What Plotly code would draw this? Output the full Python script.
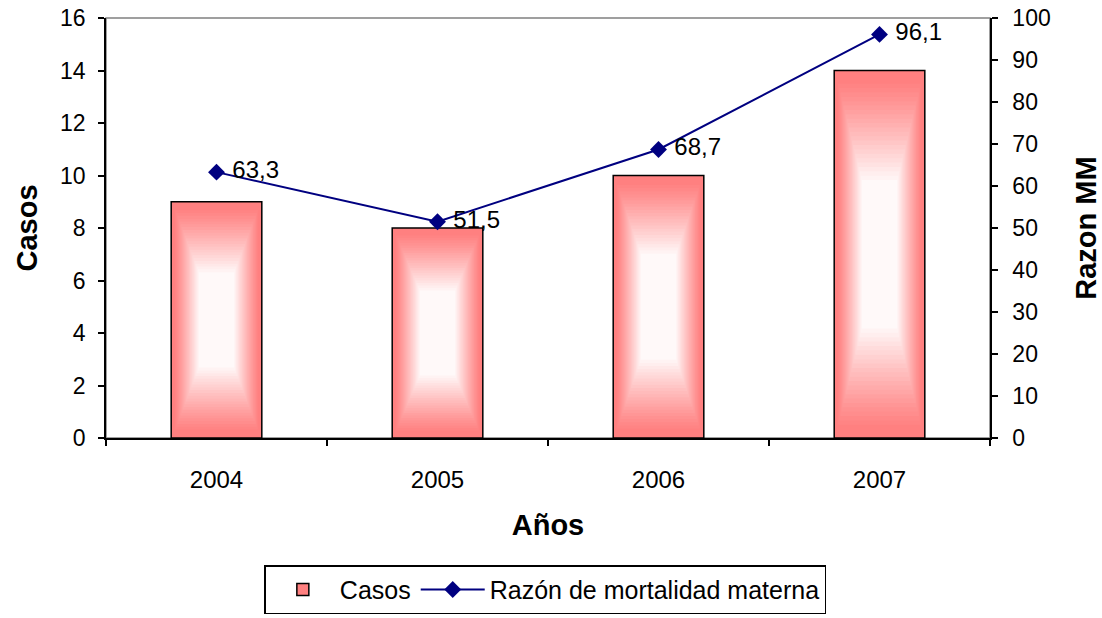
import plotly.graph_objects as go

# datos
anios = ["2004", "2005", "2006", "2007"]
casos = [9, 8, 10, 14]
razon_mm = [63.3, 51.5, 68.7, 96.1]

FONT = "Liberation Sans, Arial, sans-serif"
PINK = (255, 128, 128)
BAR_W = 0.41
N_LAYERS = 26

fig = go.Figure()

# barra exterior (la que sale en la leyenda)
fig.add_trace(
    go.Bar(
        x=anios,
        y=casos,
        name="Casos",
        width=BAR_W,
        marker=dict(color="rgb(255,128,128)", line=dict(color="black", width=1.5)),
        hoverinfo="skip",
    )
)

# capas interiores para imitar el degradado rectangular de Excel
for i in range(1, N_LAYERS):
    t = i / N_LAYERS
    shrink = 0.62 * t
    mix = min(1.0, max(0.0, (t - 0.08) / 0.92) ** 1.1)
    col = tuple(round(c + (255 - c) * mix) for c in PINK)
    fig.add_trace(
        go.Bar(
            x=anios,
            y=[v * (1 - shrink) for v in casos],
            base=[v * shrink / 2 for v in casos],
            width=BAR_W * (1 - shrink) - 0.006,
            marker=dict(color="rgb(%d,%d,%d)" % col, line=dict(width=0)),
            showlegend=False,
            hoverinfo="skip",
        )
    )

fig.add_trace(
    go.Scatter(
        x=anios,
        y=razon_mm,
        name="Razón de mortalidad materna",
        yaxis="y2",
        mode="lines+markers+text",
        line=dict(color="#000080", width=2),
        marker=dict(symbol="diamond", size=13, color="#000080"),
        texttemplate=" %{y:.1f}",
        textposition="middle right",
        textfont=dict(family=FONT, size=24, color="black"),
    )
)

title_font = dict(family=FONT, size=29, color="black")
tick_common = dict(ticklen=6, tickwidth=1.5, tickcolor="black", showgrid=False,
                   zeroline=False, automargin=False)

fig.update_layout(
    width=1102,
    height=618,
    margin=dict(l=106, r=112, t=18, b=180),
    plot_bgcolor="white",
    paper_bgcolor="white",
    barmode="overlay",
    separators=",.",
    showlegend=True,
    legend=dict(
        orientation="h",
        x=0.497,
        xanchor="center",
        yref="container",
        y=0.006,
        yanchor="bottom",
        font=dict(family=FONT, size=25, color="black"),
        bordercolor="black",
        borderwidth=1.5,
        bgcolor="white",
        itemwidth=64,
    ),
    xaxis=dict(
        type="category",
        range=[-0.5, 3.5],
        showline=True,
        linecolor="black",
        linewidth=1.5,
        ticks="outside",
        tickson="boundaries",
        tickfont=dict(family=FONT, size=24, color="black"),
        ticklabelstandoff=19,
        title=dict(text="<b>Años</b>", font=title_font, standoff=23),
        **tick_common,
    ),
    # eje auxiliar para que las marcas crucen el eje X
    xaxis2=dict(
        overlaying="x",
        anchor="y",
        range=[-0.5, 3.5],
        tickvals=[0.5, 1.5, 2.5],
        ticks="inside",
        showticklabels=False,
        showline=False,
        **tick_common,
    ),
    yaxis=dict(
        range=[0, 16],
        dtick=2,
        showline=True,
        linecolor="black",
        linewidth=1.5,
        ticks="outside",
        tickfont=dict(family=FONT, size=23, color="black"),
        ticklabelstandoff=8,
        ticklabeloverflow="allow",
        title=dict(text="<b>Casos</b>", font=title_font, standoff=14),
        **tick_common,
    ),
    yaxis2=dict(
        overlaying="y",
        side="right",
        range=[0, 100],
        dtick=10,
        showline=True,
        linecolor="black",
        linewidth=1.5,
        ticks="outside",
        tickfont=dict(family=FONT, size=23, color="black"),
        ticklabelstandoff=10,
        ticklabeloverflow="allow",
        title=dict(text="<b>Razon MM</b>", font=title_font, standoff=26),
        **tick_common,
    ),
    yaxis3=dict(
        overlaying="y",
        anchor="x",
        side="left",
        range=[0, 16],
        dtick=2,
        ticks="inside",
        showticklabels=False,
        showline=False,
        **tick_common,
    ),
    yaxis4=dict(
        overlaying="y",
        anchor="x",
        side="right",
        range=[0, 100],
        dtick=10,
        ticks="inside",
        showticklabels=False,
        showline=False,
        **tick_common,
    ),
    shapes=[
        dict(
            type="rect",
            xref="paper",
            yref="paper",
            x0=0,
            x1=1,
            y0=0,
            y1=1,
            line=dict(color="#808080", width=1.5),
            layer="below",
        )
    ],
)

# quitar el margen por defecto del <body> para que el grafico ocupe la ventana
fig.write_html(
    "out.html",
    config={"displayModeBar": False},
    post_script="document.body.style.margin = '0';",
)
